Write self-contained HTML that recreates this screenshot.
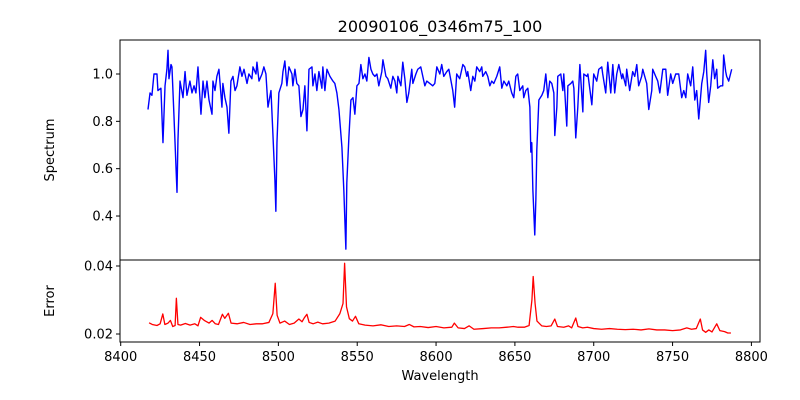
<!DOCTYPE html>
<html><head><meta charset="utf-8"><style>
html,body{margin:0;padding:0;background:#fff;width:800px;height:400px;overflow:hidden}
svg text{font-family:"DejaVu Sans","Liberation Sans",sans-serif;fill:#000}
</style></head><body>
<svg id="chart" width="800" height="400" viewBox="0 0 800 400" xmlns="http://www.w3.org/2000/svg">
<rect width="800" height="400" fill="#fff"/>
<text x="440" y="32" font-size="16" text-anchor="middle">20090106_0346m75_100</text>
<g id="topAxes"></g><g id="botAxes"></g>
<text transform="translate(54,150) rotate(-90)" font-size="13" text-anchor="middle">Spectrum</text>
<text transform="translate(54,301) rotate(-90)" font-size="13" text-anchor="middle">Error</text>
<text x="440" y="380" font-size="13" text-anchor="middle">Wavelength</text>
</svg>
<script>
const specWave=[8417.3,8418.6,8419.8,8421.1,8423.0,8423.6,8425.5,8426.8,8428.1,8429.3,8430.0,8430.6,8431.9,8432.5,8433.8,8435.7,8436.3,8437.6,8439.5,8440.8,8442.0,8443.9,8445.2,8446.5,8447.7,8449.0,8450.9,8452.2,8453.4,8454.7,8456.0,8457.9,8458.5,8459.8,8461.0,8462.3,8464.2,8464.8,8466.1,8467.4,8468.6,8469.9,8471.2,8472.5,8473.7,8475.6,8476.9,8478.2,8480.1,8481.3,8483.2,8483.9,8485.8,8486.4,8487.7,8489.6,8490.8,8492.1,8493.4,8495.3,8496.5,8497.8,8498.4,8499.1,8500.3,8502.2,8502.9,8504.1,8505.4,8506.7,8508.6,8509.2,8510.5,8511.7,8513.0,8514.3,8515.6,8516.8,8518.1,8519.4,8521.3,8521.9,8523.2,8524.4,8525.7,8527.6,8528.2,8529.5,8530.8,8532.7,8534.6,8535.8,8537.1,8538.4,8540.3,8541.5,8542.8,8543.4,8544.7,8546.0,8547.3,8548.5,8549.8,8551.1,8552.3,8553.6,8554.9,8556.1,8557.4,8558.7,8559.9,8561.2,8562.5,8563.7,8565.6,8566.3,8568.2,8569.4,8571.3,8572.6,8573.9,8575.1,8575.8,8577.7,8578.9,8580.2,8581.5,8582.7,8584.6,8585.3,8587.2,8588.4,8590.3,8591.6,8592.9,8594.1,8596.0,8597.9,8599.2,8600.5,8602.4,8603.6,8604.9,8606.8,8608.1,8610.6,8611.8,8613.1,8615.0,8617.0,8618.2,8619.5,8620.1,8622.0,8623.3,8624.6,8625.8,8627.7,8629.0,8629.6,8631.5,8632.8,8634.1,8635.3,8636.6,8638.5,8640.4,8641.7,8643.0,8644.9,8646.1,8648.0,8649.3,8650.6,8651.8,8653.1,8655.0,8655.6,8656.9,8658.2,8659.5,8660.1,8660.7,8661.4,8662.6,8663.3,8663.9,8665.2,8667.1,8668.3,8669.6,8670.9,8672.1,8673.4,8674.7,8675.3,8676.6,8677.2,8679.1,8680.4,8681.0,8682.9,8683.6,8685.5,8686.7,8687.4,8688.6,8689.9,8691.2,8693.1,8693.7,8695.6,8696.3,8698.8,8700.0,8701.9,8703.2,8705.1,8705.7,8707.6,8708.9,8710.8,8712.1,8713.3,8714.6,8715.9,8717.8,8718.4,8720.3,8720.9,8722.8,8724.7,8726.0,8727.3,8728.5,8730.4,8731.1,8733.6,8734.9,8736.8,8737.4,8739.3,8740.6,8741.9,8743.8,8745.7,8746.9,8748.8,8750.1,8752.0,8753.9,8755.8,8757.1,8758.4,8759.6,8761.5,8762.8,8764.1,8765.3,8766.6,8768.5,8769.8,8771.0,8771.7,8772.9,8774.2,8775.5,8776.7,8778.0,8778.6,8780.5,8781.8,8782.4,8783.7,8784.3,8785.6,8787.5];
const specFlux=[0.85,0.92,0.91,1.00,1.00,0.93,0.94,0.71,0.95,1.02,1.10,0.98,1.04,1.03,0.82,0.50,0.72,0.97,0.90,1.01,0.91,0.97,0.92,0.95,0.92,1.03,0.83,0.97,0.90,0.97,0.89,0.83,0.97,0.93,0.99,1.02,0.86,0.96,0.90,0.86,0.75,0.97,0.99,0.93,0.95,1.03,0.99,1.02,0.96,1.00,0.98,1.03,1.00,1.05,0.97,1.00,1.03,1.00,0.86,0.93,0.75,0.55,0.42,0.71,0.92,0.96,1.01,1.055,0.95,1.03,1.00,0.95,1.02,0.96,0.95,0.82,0.85,0.95,0.76,1.02,1.03,0.95,1.00,0.93,1.01,0.94,1.03,0.93,1.02,0.99,0.97,0.96,0.92,0.85,0.69,0.51,0.26,0.54,0.73,0.89,0.90,0.83,0.95,0.96,1.04,0.98,1.00,0.97,1.07,1.02,1.00,0.99,1.00,0.95,1.01,1.06,0.99,0.98,0.94,0.99,0.97,0.92,0.99,0.95,1.05,0.98,0.88,0.92,1.02,0.96,1.00,1.02,1.03,0.99,0.95,0.97,0.96,0.95,0.96,1.03,1.00,1.04,0.99,1.01,1.02,0.93,0.86,1.00,0.98,1.04,1.03,0.99,1.01,0.93,0.99,0.97,1.03,1.01,1.03,0.99,1.01,0.99,0.95,0.97,0.96,0.99,1.03,0.94,0.97,0.95,0.97,0.92,0.90,0.99,1.00,0.93,0.95,0.90,0.93,0.94,0.86,0.67,0.71,0.51,0.32,0.47,0.68,0.89,0.91,0.93,1.00,0.90,0.97,0.96,0.92,0.74,0.86,0.99,1.00,0.93,1.00,0.78,0.95,0.96,0.97,0.94,0.73,0.86,1.04,0.84,1.00,0.99,1.00,0.87,1.00,0.97,1.02,1.03,1.00,0.92,1.05,0.92,1.04,0.92,1.00,1.04,0.98,1.00,0.95,1.02,0.93,1.01,0.99,1.04,0.95,0.99,1.02,0.96,0.85,0.93,1.02,0.99,0.97,0.92,1.02,1.02,0.91,1.00,0.96,1.00,1.00,0.90,0.93,0.90,1.00,0.95,1.03,0.89,0.93,0.81,0.96,1.01,1.10,1.00,0.88,0.95,1.06,0.98,1.02,0.94,0.95,0.95,1.08,1.01,0.99,0.97,1.02];
const errWave=[8418,8420,8423,8425,8426.7,8428,8430,8431.5,8433,8434.5,8435.3,8436.3,8438,8441,8444,8447,8449,8450.7,8453,8456,8458,8460,8462,8464.5,8466,8468.3,8470,8474,8478,8482,8486,8490,8494,8496.5,8498,8499.2,8501,8504,8507,8510,8513,8515,8516.5,8518.1,8519.5,8522,8525,8528,8532,8536,8539,8541,8542,8543.2,8545,8547,8548.9,8551,8555,8560,8565,8570,8575,8580,8583,8586,8590,8595,8600,8605,8610,8611.6,8614,8618,8621,8624,8630,8635,8640,8645,8649,8652,8656,8659,8660.8,8661.6,8662.8,8664,8667,8670,8673,8675.3,8677,8681,8684,8686,8688.6,8690,8693,8696,8700,8705,8710,8715,8720,8725,8730,8735,8740,8745,8750,8755,8759,8762,8765,8767.6,8769,8771,8773,8775,8778,8780,8783,8785,8787];
const errVal=[0.0233,0.0228,0.0225,0.0230,0.0259,0.0228,0.0232,0.0240,0.0222,0.0225,0.0305,0.0228,0.0226,0.0231,0.0226,0.0230,0.0224,0.0249,0.0240,0.0232,0.0240,0.0230,0.0228,0.0258,0.0246,0.0261,0.0232,0.0230,0.0234,0.0228,0.0230,0.0230,0.0234,0.0260,0.0349,0.0255,0.0232,0.0238,0.0228,0.0232,0.0244,0.0236,0.0248,0.0258,0.0234,0.0230,0.0235,0.0230,0.0232,0.0238,0.0260,0.0290,0.0408,0.0280,0.0245,0.0238,0.0252,0.0230,0.0226,0.0224,0.0227,0.0222,0.0224,0.0222,0.0228,0.0221,0.0222,0.0219,0.0222,0.0218,0.0220,0.0232,0.0218,0.0216,0.0224,0.0214,0.0216,0.0218,0.0218,0.0220,0.0222,0.0220,0.0220,0.0225,0.0300,0.0369,0.0290,0.0238,0.0224,0.0222,0.0224,0.0244,0.0222,0.0220,0.0224,0.0218,0.0247,0.0222,0.0218,0.0220,0.0216,0.0214,0.0216,0.0214,0.0213,0.0214,0.0212,0.0215,0.0212,0.0212,0.0210,0.0212,0.0218,0.0214,0.0216,0.0244,0.0212,0.0205,0.0212,0.0206,0.0230,0.0210,0.0207,0.0203,0.0203];
const xTicks=[8400,8450,8500,8550,8600,8650,8700,8750,8800];
const specTicks=[0.4,0.6,0.8,1.0];
const errTicks=[0.02,0.04];

const NS="http://www.w3.org/2000/svg";
const L=120,R=760,T1=40,B1=260,T2=260,B2=342;
const xMin=8399.55,xMax=8805.45;
const sMin=0.2142,sMax=1.1436;
const eMin=0.01765,eMax=0.04176;
const sx=w=>L+(w-xMin)/(xMax-xMin)*(R-L);
const sy=v=>B1-(v-sMin)/(sMax-sMin)*(B1-T1);
const ey=v=>B2-(v-eMin)/(eMax-eMin)*(B2-T2);
function mk(tag,attrs,parent){const e=document.createElementNS(NS,tag);for(const k in attrs)e.setAttribute(k,attrs[k]);parent.appendChild(e);return e;}
const gTop=document.getElementById('topAxes'),gBot=document.getElementById('botAxes');

const n=Math.min(specWave.length,specFlux.length);
let d='';
for(let i=0;i<n;i++)d+=(i?'L':'M')+sx(specWave[i]).toFixed(2)+','+sy(specFlux[i]).toFixed(2);
const sl=mk('path',{d:d,fill:'none',stroke:'#0000ff','stroke-width':1.4,'stroke-linejoin':'round'},gTop);


const m=Math.min(errWave.length,errVal.length);
d='';
for(let i=0;i<m;i++)d+=(i?'L':'M')+sx(errWave[i]).toFixed(2)+','+ey(errVal[i]).toFixed(2);
const el=mk('path',{d:d,fill:'none',stroke:'#ff0000','stroke-width':1.3,'stroke-linejoin':'round'},gBot);



const f1=mk('rect',{x:L,y:T1,width:R-L,height:B1-T1,fill:'none',stroke:'#000','stroke-width':1},gTop);


const f2=mk('rect',{x:L,y:T2,width:R-L,height:B2-T2,fill:'none',stroke:'#000','stroke-width':1},gBot);



specTicks.forEach(v=>{const y=sy(v);
 mk('line',{x1:L-4,x2:L,y1:y,y2:y,stroke:'#000'},gTop);
 const t=mk('text',{x:L-7,y:y+4.5,'font-size':13,'text-anchor':'end'},gTop);t.textContent=v.toFixed(1);
 
 });
errTicks.forEach(v=>{const y=ey(v);
 mk('line',{x1:L-4,x2:L,y1:y,y2:y,stroke:'#000'},gBot);
 const t=mk('text',{x:L-7,y:y+4.5,'font-size':13,'text-anchor':'end'},gBot);t.textContent=v.toFixed(2);
 
 });
xTicks.forEach(v=>{const x=sx(v);
 mk('line',{x1:x,x2:x,y1:B2,y2:B2+4,stroke:'#000'},gBot);
 const t=mk('text',{x:x,y:B2+19,'font-size':13,'text-anchor':'middle'},gBot);t.textContent=v;
 
 });
</script>
</body></html>
